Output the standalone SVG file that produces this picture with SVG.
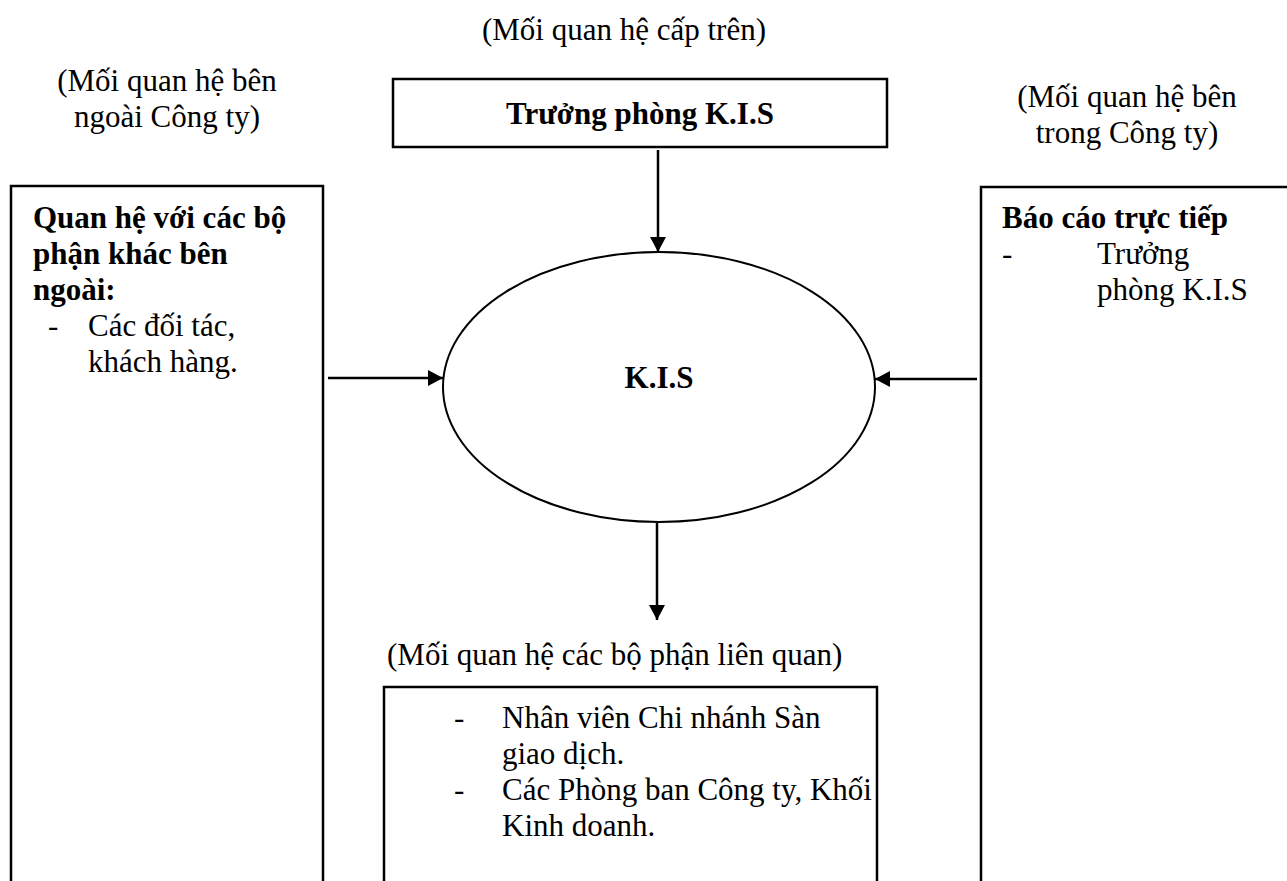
<svg xmlns="http://www.w3.org/2000/svg" width="1287" height="881" viewBox="0 0 1287 881">
<style>
text{font-family:"Liberation Serif","Times New Roman",serif;font-size:31px;fill:#000}
.b{font-weight:bold}
.box{fill:#fff;stroke:#000;stroke-width:2.5}
.con{stroke:#000;stroke-width:2.5;fill:none}
</style>
<defs>
<marker id="a" markerWidth="16" markerHeight="16" refX="15" refY="8" markerUnits="userSpaceOnUse" orient="auto">
<path d="M0,0 L15,8 L0,16 Z" fill="#000"/>
</marker>
</defs>
<rect width="1287" height="881" fill="#fff"/>
<g id="label-top"><text x="624" y="40" text-anchor="middle">(Mối quan hệ cấp trên)</text></g>
<g id="label-left"><text x="167" y="91" text-anchor="middle">(Mối quan hệ bên</text><text x="167" y="127" text-anchor="middle">ngoài Công ty)</text></g>
<g id="label-right"><text x="1127" y="107" text-anchor="middle">(Mối quan hệ bên</text><text x="1127" y="143" text-anchor="middle">trong Công ty)</text></g>
<g id="node-truongphong"><rect class="box" x="393" y="79" width="494" height="68"/><text class="b" x="640" y="124" text-anchor="middle">Trưởng phòng K.I.S</text></g>
<g id="node-kis"><ellipse class="box" cx="659" cy="387" rx="216" ry="135" style="stroke-width:2"/><text class="b" x="659" y="388" text-anchor="middle">K.I.S</text></g>
<g id="node-left"><rect class="box" x="11" y="186" width="312" height="720"/>
<text class="b" x="33" y="228">Quan hệ với các bộ</text>
<text class="b" x="33" y="264">phận khác bên</text>
<text class="b" x="33" y="300">ngoài:</text>
<text x="48" y="336">-</text><text x="88" y="336">Các đối tác,</text>
<text x="88" y="372">khách hàng.</text>
</g>
<g id="node-right"><rect class="box" x="981" y="187" width="330" height="720"/>
<text class="b" x="1002" y="228">Báo cáo trực tiếp</text>
<text x="1002" y="264">-</text><text x="1097" y="264">Trưởng</text>
<text x="1097" y="300">phòng K.I.S</text>
</g>
<g id="label-bottom"><text x="387" y="665">(Mối quan hệ các bộ phận liên quan)</text></g>
<g id="node-bottom"><rect class="box" x="384" y="687" width="493" height="220"/>
<text x="454" y="728">-</text><text x="502" y="728">Nhân viên Chi nhánh Sàn</text>
<text x="502" y="764">giao dịch.</text>
<text x="454" y="800">-</text><text x="502" y="800">Các Phòng ban Công ty, Khối</text>
<text x="502" y="836">Kinh doanh.</text>
</g>
<g id="connectors">
<line class="con" x1="658" y1="150" x2="658" y2="252" marker-end="url(#a)"/>
<line class="con" x1="657" y1="523" x2="657" y2="620" marker-end="url(#a)"/>
<line class="con" x1="328" y1="378" x2="443" y2="378" marker-end="url(#a)"/>
<line class="con" x1="977" y1="379" x2="875" y2="379" marker-end="url(#a)"/>
</g>
</svg>
